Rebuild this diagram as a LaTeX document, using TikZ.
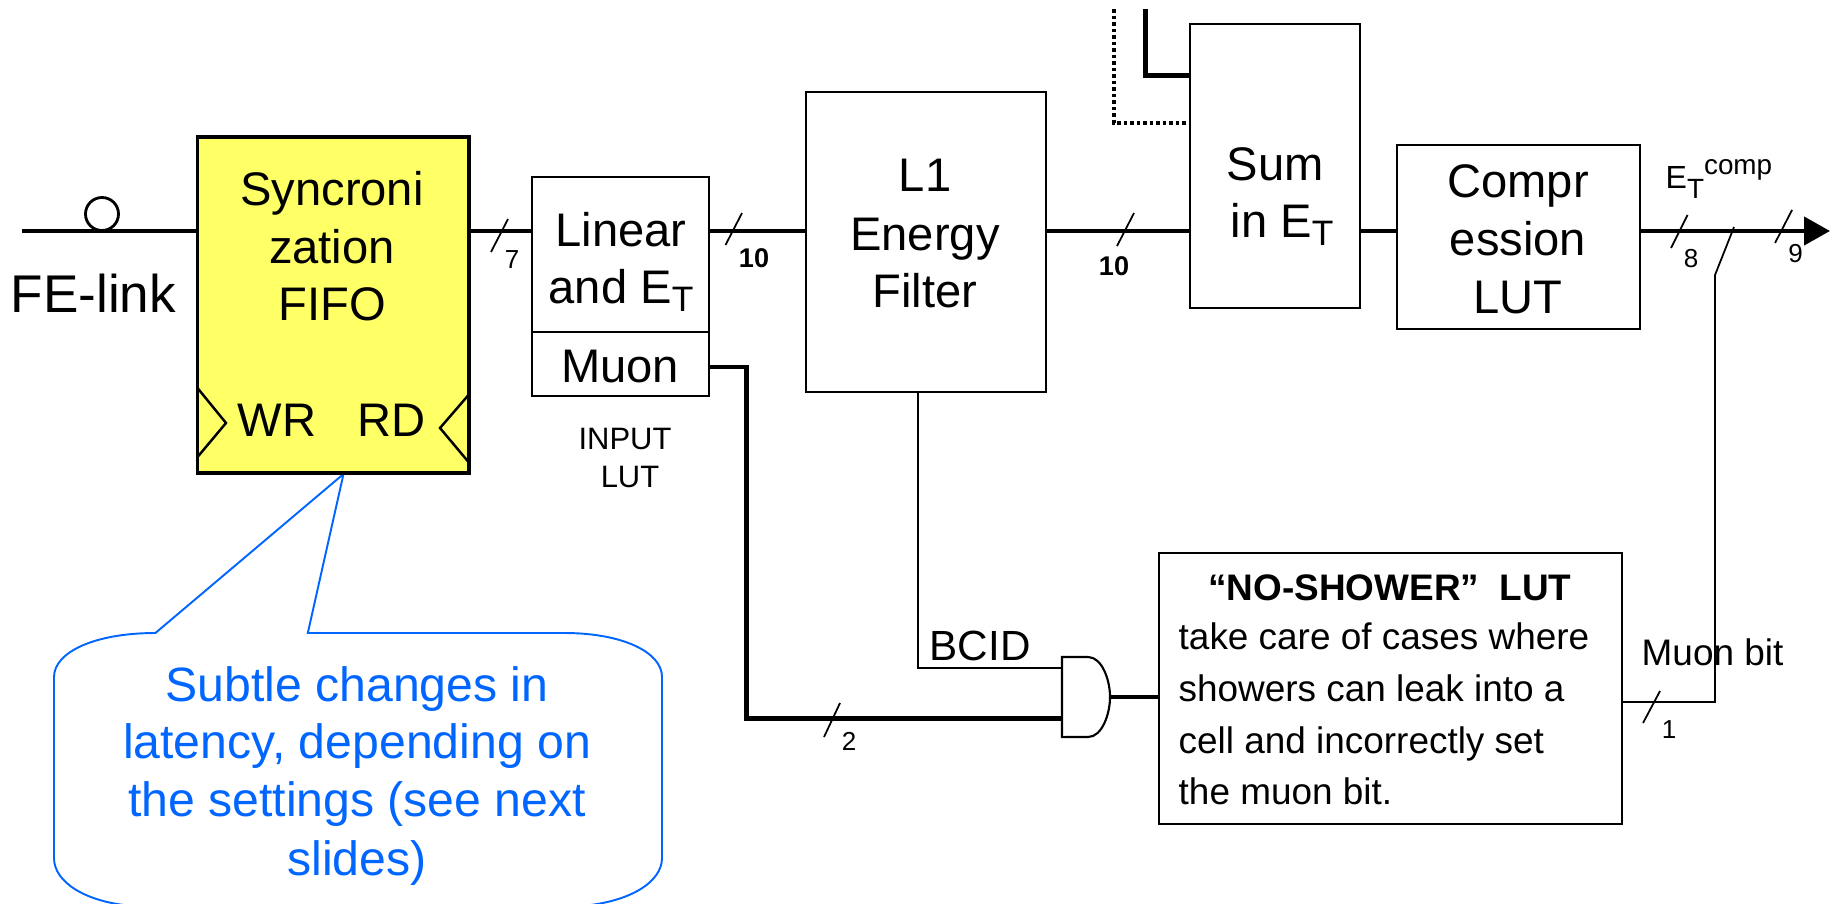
\documentclass[tikz,border=0pt]{standalone}
\usepackage{graphicx}
\usepackage{fontspec}
\setmainfont{Liberation Sans}
\usetikzlibrary{arrows.meta}
\definecolor{fifoyellow}{HTML}{FFFF66}
\definecolor{noteblue}{HTML}{0066FF}
\newcommand{\ET}{E\raisebox{-0.18em}{\scalebox{0.75}{T}}}
\tikzset{
 box/.style={draw,line width=0.6pt,inner sep=0pt,outer sep=0pt,anchor=north west},
 bus/.style={line width=1.2pt},
 wire/.style={line width=0.5pt},
 big/.style={inner sep=0pt,anchor=base,font=\fontsize{13.4pt}{13.4pt}\selectfont},
 mid/.style={inner sep=0pt,anchor=base,font=\fontsize{10.5pt}{10.5pt}\selectfont},
 width/.style={inner sep=0pt,anchor=base,font=\fontsize{7.4pt}{7.4pt}\selectfont},
 note/.style={inner sep=0pt,anchor=base,text=noteblue,font=\fontsize{13.7pt}{13.7pt}\selectfont},
}
\begin{document}
\begin{tikzpicture}[x=0.01cm,y=-0.01cm]
\useasboundingbox (0,0) rectangle (1837,903);
%callout
\coordinate (tip) at (343.5,474);
\draw[noteblue,line width=0.55pt,fill=white](tip)--(155.4,633)..controls(95,633)and(54,652)..(54,677)--(54,858)
 ..controls(54,882)and(85,902)..(133,906)--(581,906)..controls(630,902)and(662,882)..(662,858)--(662,677)
 ..controls(662,652)and(622,633)..(564.5,633)--(307.8,633)--cycle;
\node[note] (note1) at (357,701) {Subtle changes in};
\node[note] (note2) at (357,758) {latency, depending on};
\node[note] (note3) at (357,816) {the settings (see next};
\node[note] (note4) at (357,875) {slides)};
%blocks
\node[box,line width=1.1pt,fill=fifoyellow,minimum width=2.71cm,minimum height=3.36cm] (fifo) at (197.5,137) {};
\node[box,minimum width=1.77cm,minimum height=1.55cm] (linear) at (532,177) {};
\node[box,minimum width=1.77cm,minimum height=0.64cm] (muon) at (532,332) {};
\node[box,minimum width=2.4cm,minimum height=3cm] (filter) at (806,92) {};
\node[box,minimum width=1.7cm,minimum height=2.84cm] (sum) at (1190,24) {};
\node[box,minimum width=2.43cm,minimum height=1.84cm] (compr) at (1397,145) {};
\node[box,minimum width=4.63cm,minimum height=2.71cm] (noshower) at (1159,553) {};
\node[inner sep=0pt,outer sep=0pt,minimum width=0.48cm,minimum height=0.8cm,anchor=north west] (gate) at (1062,657) {};
%texts in blocks
\node[big] (fifo1) at (332,205) {Syncroni};
\node[big] (fifo2) at (332,263) {zation};
\node[big] (fifo3) at (332,320) {FIFO};
\node[big] (wr) at (277,436) {WR};
\node[big] (rd) at (392,436) {RD};
\node[big] (linear1) at (621,246) {Linear};
\node[big] (linear2) at (621,303) {and \ET};
\node[big] (muon1) at (620,382) {Muon};
\node[big] (filter1) at (925,191) {L1};
\node[big] (filter2) at (925,250) {Energy};
\node[big] (filter3) at (925,307) {Filter};
\node[big] (sum1) at (1275,180) {Sum};
\node[big] (sum2) at (1282,237) {in \ET};
\node[big] (compr1) at (1518,197) {Compr};
\node[big] (compr2) at (1518,255) {ession};
\node[big] (compr3) at (1518,313) {LUT};
\node[mid,font=\bfseries\fontsize{10.5pt}{10.5pt}\selectfont] (no1) at (1390,600) {“NO-SHOWER”\ \ LUT};
\node[mid,anchor=base west] (no2) at (1178,649) {take care of cases where};
\node[mid,anchor=base west] (no3) at (1178,701) {showers can leak into a};
\node[mid,anchor=base west] (no4) at (1178,753) {cell and incorrectly set};
\node[mid,anchor=base west] (no5) at (1178,804) {the muon bit.};
%outer labels
\node[big,anchor=base west,font=\fontsize{15.1pt}{15.1pt}\selectfont] (felink) at (10,312) {FE-link};
\node[inner sep=0pt,anchor=base,font=\fontsize{8.8pt}{8.8pt}\selectfont] (input) at (625,449) {INPUT};
\node[inner sep=0pt,anchor=base,font=\fontsize{8.8pt}{8.8pt}\selectfont] (lut) at (630,487) {LUT};
\node[mid,anchor=base west,font=\fontsize{12pt}{12pt}\selectfont] (bcid) at (929,660) {BCID};
\node[mid,anchor=base west] (muonbit) at (1641,665) {Muon bit};
\node[inner sep=0pt,anchor=base west,font=\fontsize{9.1pt}{9.1pt}\selectfont] (etcomp) at (1665,188)
 {E\raisebox{-0.32em}{\scalebox{0.87}{T}}\raisebox{0.42em}{\scalebox{0.87}{comp}}};
%FIFO clock marks
\draw[line width=0.7pt](197.5,388)--(226,423)--(197.5,457);
\draw[line width=0.7pt](468.5,395)--(440,428)--(468.5,462);
%bus
\coordinate (felinkin) at (22,231);
\coordinate (busout) at (1830,231);
\draw[bus](felinkin)--(felinkin-|fifo.west);
\node[draw,circle,line width=0.8pt,inner sep=0pt,minimum size=0.33cm] (pin) at (102,214) {};
\draw[bus](felinkin-|fifo.east)--(felinkin-|linear.west);
\draw[bus](felinkin-|linear.east)--(felinkin-|filter.west);
\draw[bus](felinkin-|filter.east)--(felinkin-|sum.west);
\draw[bus](felinkin-|sum.east)--(felinkin-|compr.west);
\draw[bus,-{Triangle[length=0.26cm,width=0.28cm]}](felinkin-|compr.east)--(busout);
%lines above Sum
\coordinate (sumtop) at (1145.5,9);
\coordinate (sumdot) at (1114,9);
\draw[bus](sumtop)--(1145.5,75.5)--(1145.5,75.5-|sum.west);
\draw[bus,dash pattern=on 1pt off 0.85pt](sumdot)--(1114,123)--(1114,123-|sum.west);
%gate
\draw[line width=0.6pt](gate.north west)--(1088,657)..controls(1102,657)and(1110,680)..(gate.east)
 ..controls(1110,714)and(1102,737)..(1088,737)--(gate.south west)--cycle;
\draw[bus](gate.east)--(gate.east-|noshower.west);
\coordinate (muonout) at (muon.east|-0,367);
\draw[bus](muonout)--(746.5,367)--(746.5,718.5)--(746.5,718.5-|gate.west);
\draw[wire](918,0|-filter.south)--(918,668)--(918,668-|gate.west);
%muon bit back to bus
\draw[wire](noshower.east|-0,702)--(1715,702)--(1715,275)--(1734,227);
%width marks
\draw[wire](491,252)--(508,219);
\node[width] (w7) at (512,268) {7};
\draw[wire](725.5,245)--(742,213);
\node[width,font=\bfseries\fontsize{7.7pt}{7.7pt}\selectfont] (w10a) at (754,267) {10};
\draw[wire](1117,246)--(1134,213);
\node[width,font=\bfseries\fontsize{7.7pt}{7.7pt}\selectfont] (w10b) at (1114,275) {10};
\draw[wire](1671,248)--(1687.5,215);
\node[width] (w8) at (1691,267) {8};
\draw[wire](1775,243)--(1792,210);
\node[width] (w9) at (1795.5,262) {9};
\draw[wire](824,737)--(840,703);
\node[width] (w2) at (849,750) {2};
\draw[wire](1643,723)--(1660,691);
\node[width] (w1) at (1669,738) {1};
\end{tikzpicture}
\end{document}
